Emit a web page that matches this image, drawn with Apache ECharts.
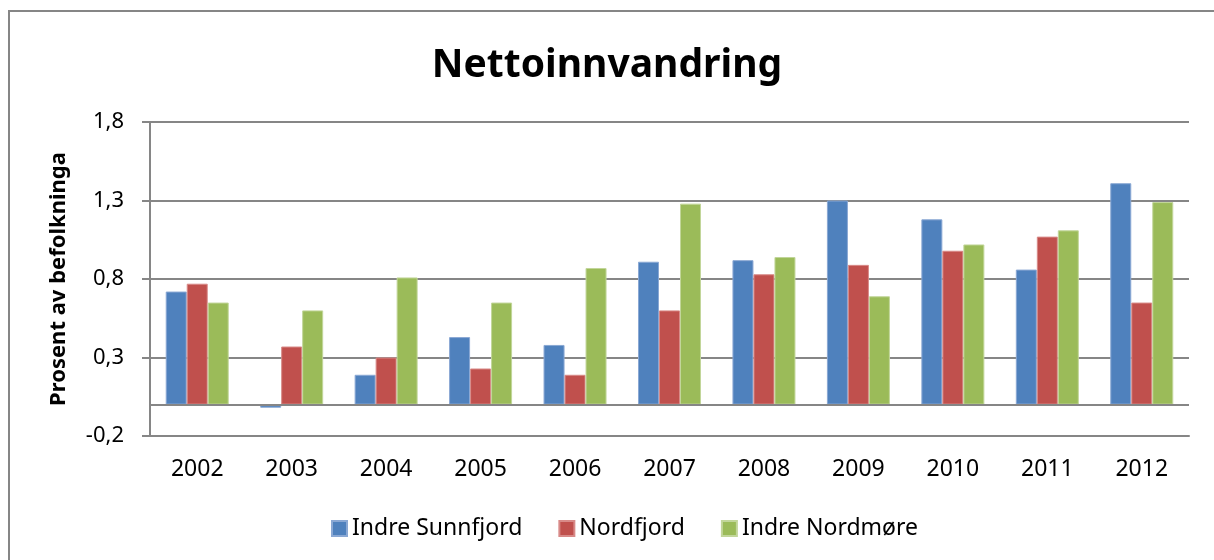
<!DOCTYPE html>
<html>
<head>
<meta charset="utf-8">
<script src="https://cdn.jsdelivr.net/npm/echarts@6/dist/echarts.min.js"></script>
<style>
  html, body { margin: 0; padding: 0; background: #fff; }
  #main { width: 1214px; height: 560px; }
</style>
</head>
<body>
<div id="main"></div>
<script>
var years = ['2002', '2003', '2004', '2005', '2006', '2007', '2008', '2009', '2010', '2011', '2012'];
var indreSunnfjord = [0.72, -0.02, 0.19, 0.43, 0.38, 0.91, 0.92, 1.30, 1.18, 0.86, 1.41];
var nordfjord = [0.77, 0.37, 0.30, 0.23, 0.19, 0.60, 0.83, 0.89, 0.98, 1.07, 0.65];
var indreNordmore = [0.65, 0.60, 0.81, 0.65, 0.87, 1.28, 0.94, 0.69, 1.02, 1.11, 1.29];

var font = 'Noto Sans';
var gray = '#868686';

function bar(name, data, color, edge) {
  return {
    name: name,
    type: 'bar',
    data: data,
    barWidth: 21,
    barGap: '0%',
    itemStyle: { color: color, borderColor: edge, borderWidth: 1 }
  };
}

var myChart = echarts.init(document.getElementById('main'));
var series = [
  bar('Indre Sunnfjord', indreSunnfjord, '#4f81bd', '#8aa8d4'),
  bar('Nordfjord', nordfjord, '#c0504d', '#d88a88'),
  bar('Indre Nordmøre', indreNordmore, '#9bbb59', '#c2d69a')
];
// linja ved null
series[0].markLine = {
  silent: true,
  symbol: 'none',
  label: { show: false },
  lineStyle: { color: gray, width: 2, type: 'solid' },
  data: [{ yAxis: 0 }]
};

myChart.setOption({
  animation: false,
  textStyle: { fontFamily: font },
  graphic: [{
    type: 'rect',
    shape: { x: 9, y: 11, width: 1220, height: 560 },
    style: { fill: 'none', stroke: gray, lineWidth: 2 }
  }],
  title: {
    text: 'Nettoinnvandring',
    left: 'center',
    top: 41,
    textStyle: { fontFamily: font, fontSize: 39, fontWeight: 'bold', color: '#000' }
  },
  legend: {
    top: 512,
    left: 326,
    itemWidth: 15,
    itemHeight: 15,
    itemGap: 36,
    icon: 'rect',
    textStyle: { fontFamily: font, fontSize: 23, color: '#000' },
    data: ['Indre Sunnfjord', 'Nordfjord', 'Indre Nordmøre']
  },
  grid: { left: 150, right: 25, top: 122, bottom: 124 },
  xAxis: {
    type: 'category',
    data: years,
    axisLine: { onZero: false, lineStyle: { color: gray, width: 2 } },
    axisTick: { show: false },
    axisLabel: { fontSize: 23, color: '#000', margin: 22 }
  },
  yAxis: {
    type: 'value',
    min: -0.2,
    max: 1.8,
    interval: 0.5,
    name: 'Prosent av befolkninga',
    nameLocation: 'middle',
    nameGap: 80,
    nameTextStyle: { fontSize: 22, fontWeight: 'bold', color: '#000' },
    axisLine: { show: true, lineStyle: { color: gray, width: 2 } },
    axisTick: { show: true, length: 8, lineStyle: { color: gray, width: 2 } },
    axisLabel: {
      fontSize: 22,
      color: '#000',
      margin: 26,
      formatter: function (v) { return (Math.round(v * 10) / 10).toFixed(1).replace('.', ','); }
    },
    splitLine: { lineStyle: { color: gray, width: 2 } }
  },
  series: series
});
</script>
</body>
</html>
